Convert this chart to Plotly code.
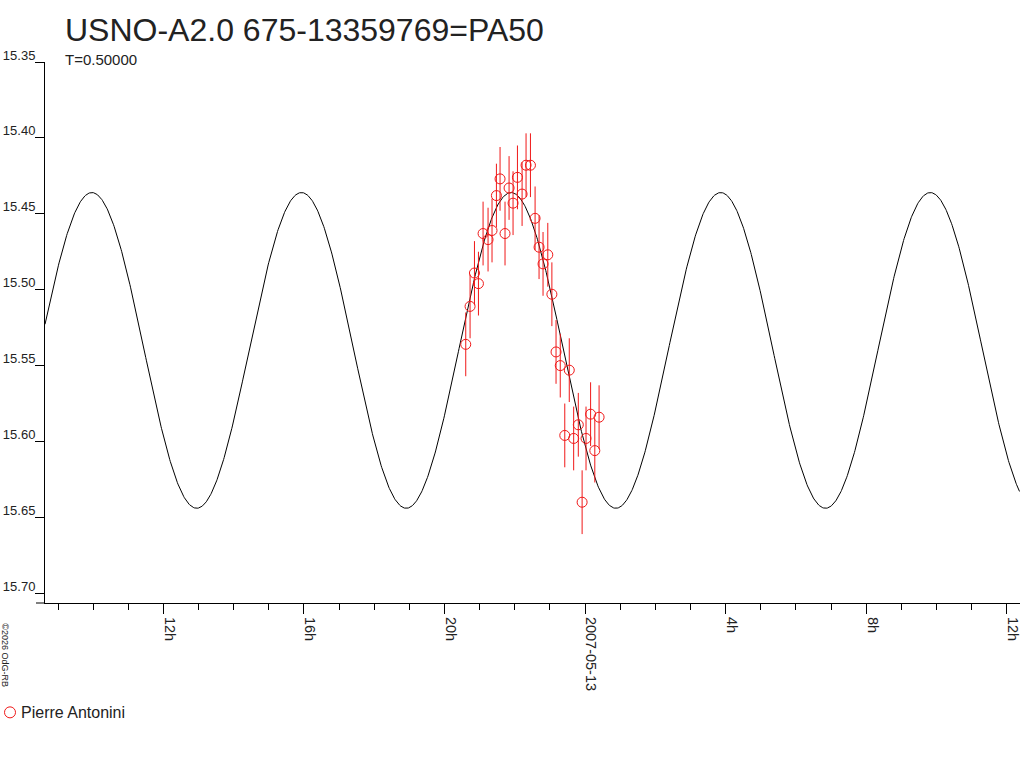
import numpy as np
import pandas as pd
import plotly.graph_objects as go

# ---- data ----
obs_times = [
    "2007-05-12 20:36:12", "2007-05-12 20:43:36", "2007-05-12 20:51:06", "2007-05-12 20:57:54",
    "2007-05-12 21:05:48", "2007-05-12 21:14:18", "2007-05-12 21:21:06", "2007-05-12 21:28:36",
    "2007-05-12 21:34:48", "2007-05-12 21:43:18", "2007-05-12 21:50:12", "2007-05-12 21:57:00",
    "2007-05-12 22:04:30", "2007-05-12 22:12:24", "2007-05-12 22:19:12", "2007-05-12 22:26:42",
    "2007-05-12 22:34:36", "2007-05-12 22:41:24", "2007-05-12 22:48:12", "2007-05-12 22:56:18",
    "2007-05-12 23:03:18", "2007-05-12 23:10:24", "2007-05-12 23:17:36", "2007-05-12 23:25:18",
    "2007-05-12 23:33:00", "2007-05-12 23:40:30", "2007-05-12 23:48:24", "2007-05-12 23:54:54",
    "2007-05-13 00:01:36", "2007-05-13 00:09:24", "2007-05-13 00:16:36", "2007-05-13 00:23:54",
]
obs_mags = [
    15.536, 15.511, 15.489, 15.496, 15.463, 15.467, 15.461, 15.438,
    15.427, 15.463, 15.433, 15.443, 15.426, 15.437, 15.418, 15.418,
    15.453, 15.472, 15.483, 15.477, 15.503, 15.541, 15.550, 15.596,
    15.553, 15.598, 15.589, 15.640, 15.598, 15.582, 15.606, 15.584,
]
obs_errs = [0.021] * len(obs_mags)

observer = "Pierre Antonini"
title_text = "USNO-A2.0 675-13359769=PA50"
subtitle_text = "T=0.50000"
copyright_text = "©2026 OdG-RB"

# model light curve parameters (read from the drawn fit)
model_epoch = "2007-05-12 21:53:36"   # time of a maximum (brightest)
model_period_h = 5.965
model_mean = 15.540
model_amp = 0.104

x_range = ["2007-05-12 08:37:48", "2007-05-13 12:22:36"]
y_range = [15.7064, 15.35]
y_ticks = [15.35, 15.40, 15.45, 15.50, 15.55, 15.60, 15.65, 15.70]
x_tickvals = ["2007-05-12 12:00", "2007-05-12 16:00", "2007-05-12 20:00", "2007-05-13 00:00",
              "2007-05-13 04:00", "2007-05-13 08:00", "2007-05-13 12:00"]
x_ticktext = ["12h", "16h", "20h", "2007-05-13", "4h", "8h", "12h"]

# ---- model evaluation ----
t_model = pd.date_range(x_range[0], x_range[1], freq="1min")
dt_h = (t_model - pd.Timestamp(model_epoch)) / pd.Timedelta(hours=1)
m_model = model_mean - model_amp * np.cos(2 * np.pi * np.asarray(dt_h) / model_period_h)

RED = "#f01818"
TXT = "#222222"
FONT = "Liberation Sans, Arial, sans-serif"
PW, PH = 975, 540.7  # plot area size in px

fig = go.Figure()
fig.add_trace(go.Scatter(
    x=t_model, y=m_model, mode="lines",
    line=dict(color="#000000", width=1), showlegend=False, hoverinfo="skip",
))
fig.add_trace(go.Scatter(
    x=pd.to_datetime(obs_times), y=obs_mags, mode="markers", name=observer,
    marker=dict(symbol="circle-open", size=10, color=RED, line=dict(width=1, color=RED)),
    error_y=dict(type="data", array=obs_errs, visible=True, color=RED, thickness=1, width=0),
    showlegend=False,
))

fig.update_layout(
    width=1024, height=768, autosize=False,
    margin=dict(l=45, r=4, t=62, b=165, pad=0, autoexpand=False),
    paper_bgcolor="white", plot_bgcolor="white",
    font=dict(family=FONT, color=TXT, size=14),
)
fig.update_xaxes(
    type="date", range=x_range, showgrid=False, zeroline=False, automargin=False,
    showline=True, linecolor="#000000", linewidth=1,
    tickmode="array", tickvals=x_tickvals, ticktext=x_ticktext,
    ticks="outside", ticklen=10, tickwidth=1, tickcolor="#000000",
    tickangle=90, tickfont=dict(family=FONT, size=14.5, color=TXT),
    ticklabelshift=6, ticklabelstandoff=0,
    minor=dict(dtick=3600000, tick0="2007-05-12 00:00", ticks="outside",
               ticklen=6, tickwidth=1, tickcolor="#000000", showgrid=False),
)
fig.update_yaxes(
    range=y_range, showgrid=False, zeroline=False, automargin=False,
    showline=True, linecolor="#000000", linewidth=1,
    tickmode="array", tickvals=y_ticks, tickformat=".2f",
    ticks="outside", ticklen=9, tickwidth=1, tickcolor="#000000",
    tickfont=dict(family=FONT, size=13, color=TXT),
    ticklabelshift=7, ticklabelstandoff=-3,
)

# x-axis line extends a little left of the y axis
fig.add_shape(type="line", xref="paper", yref="paper", x0=-9 / PW, x1=0, y0=0, y1=0,
              line=dict(color="#000000", width=1))

# title and subtitle
fig.add_annotation(text=title_text, xref="paper", yref="paper", x=18 / PW, y=1 + 32 / PH,
                   xanchor="left", yanchor="middle", showarrow=False,
                   font=dict(family=FONT, size=32, color=TXT))
fig.add_annotation(text=subtitle_text, xref="paper", yref="paper", x=18 / PW, y=1 + 2 / PH,
                   xanchor="left", yanchor="middle", showarrow=False,
                   font=dict(family=FONT, size=15, color=TXT))

# legend (observer)
ly = 712 - 602.7
fig.add_shape(type="circle", xref="paper", yref="paper",
              x0=-40.5 / PW, x1=-29.5 / PW, y0=-(ly + 5.5) / PH, y1=-(ly - 5.5) / PH,
              line=dict(color=RED, width=1))
fig.add_annotation(text=observer, xref="paper", yref="paper", x=-26 / PW, y=-ly / PH,
                   xanchor="left", yanchor="middle", showarrow=False,
                   font=dict(family=FONT, size=16, color=TXT))

# copyright
fig.add_annotation(text=copyright_text, xref="paper", yref="paper", x=-40 / PW, y=-(655 - 602.7) / PH,
                   xanchor="center", yanchor="middle", showarrow=False, textangle=90,
                   font=dict(family=FONT, size=9, color=TXT))

fig.write_html("out.html", config={"displayModeBar": False},
               post_script="document.body.style.margin='0';document.body.style.overflow='hidden';")
